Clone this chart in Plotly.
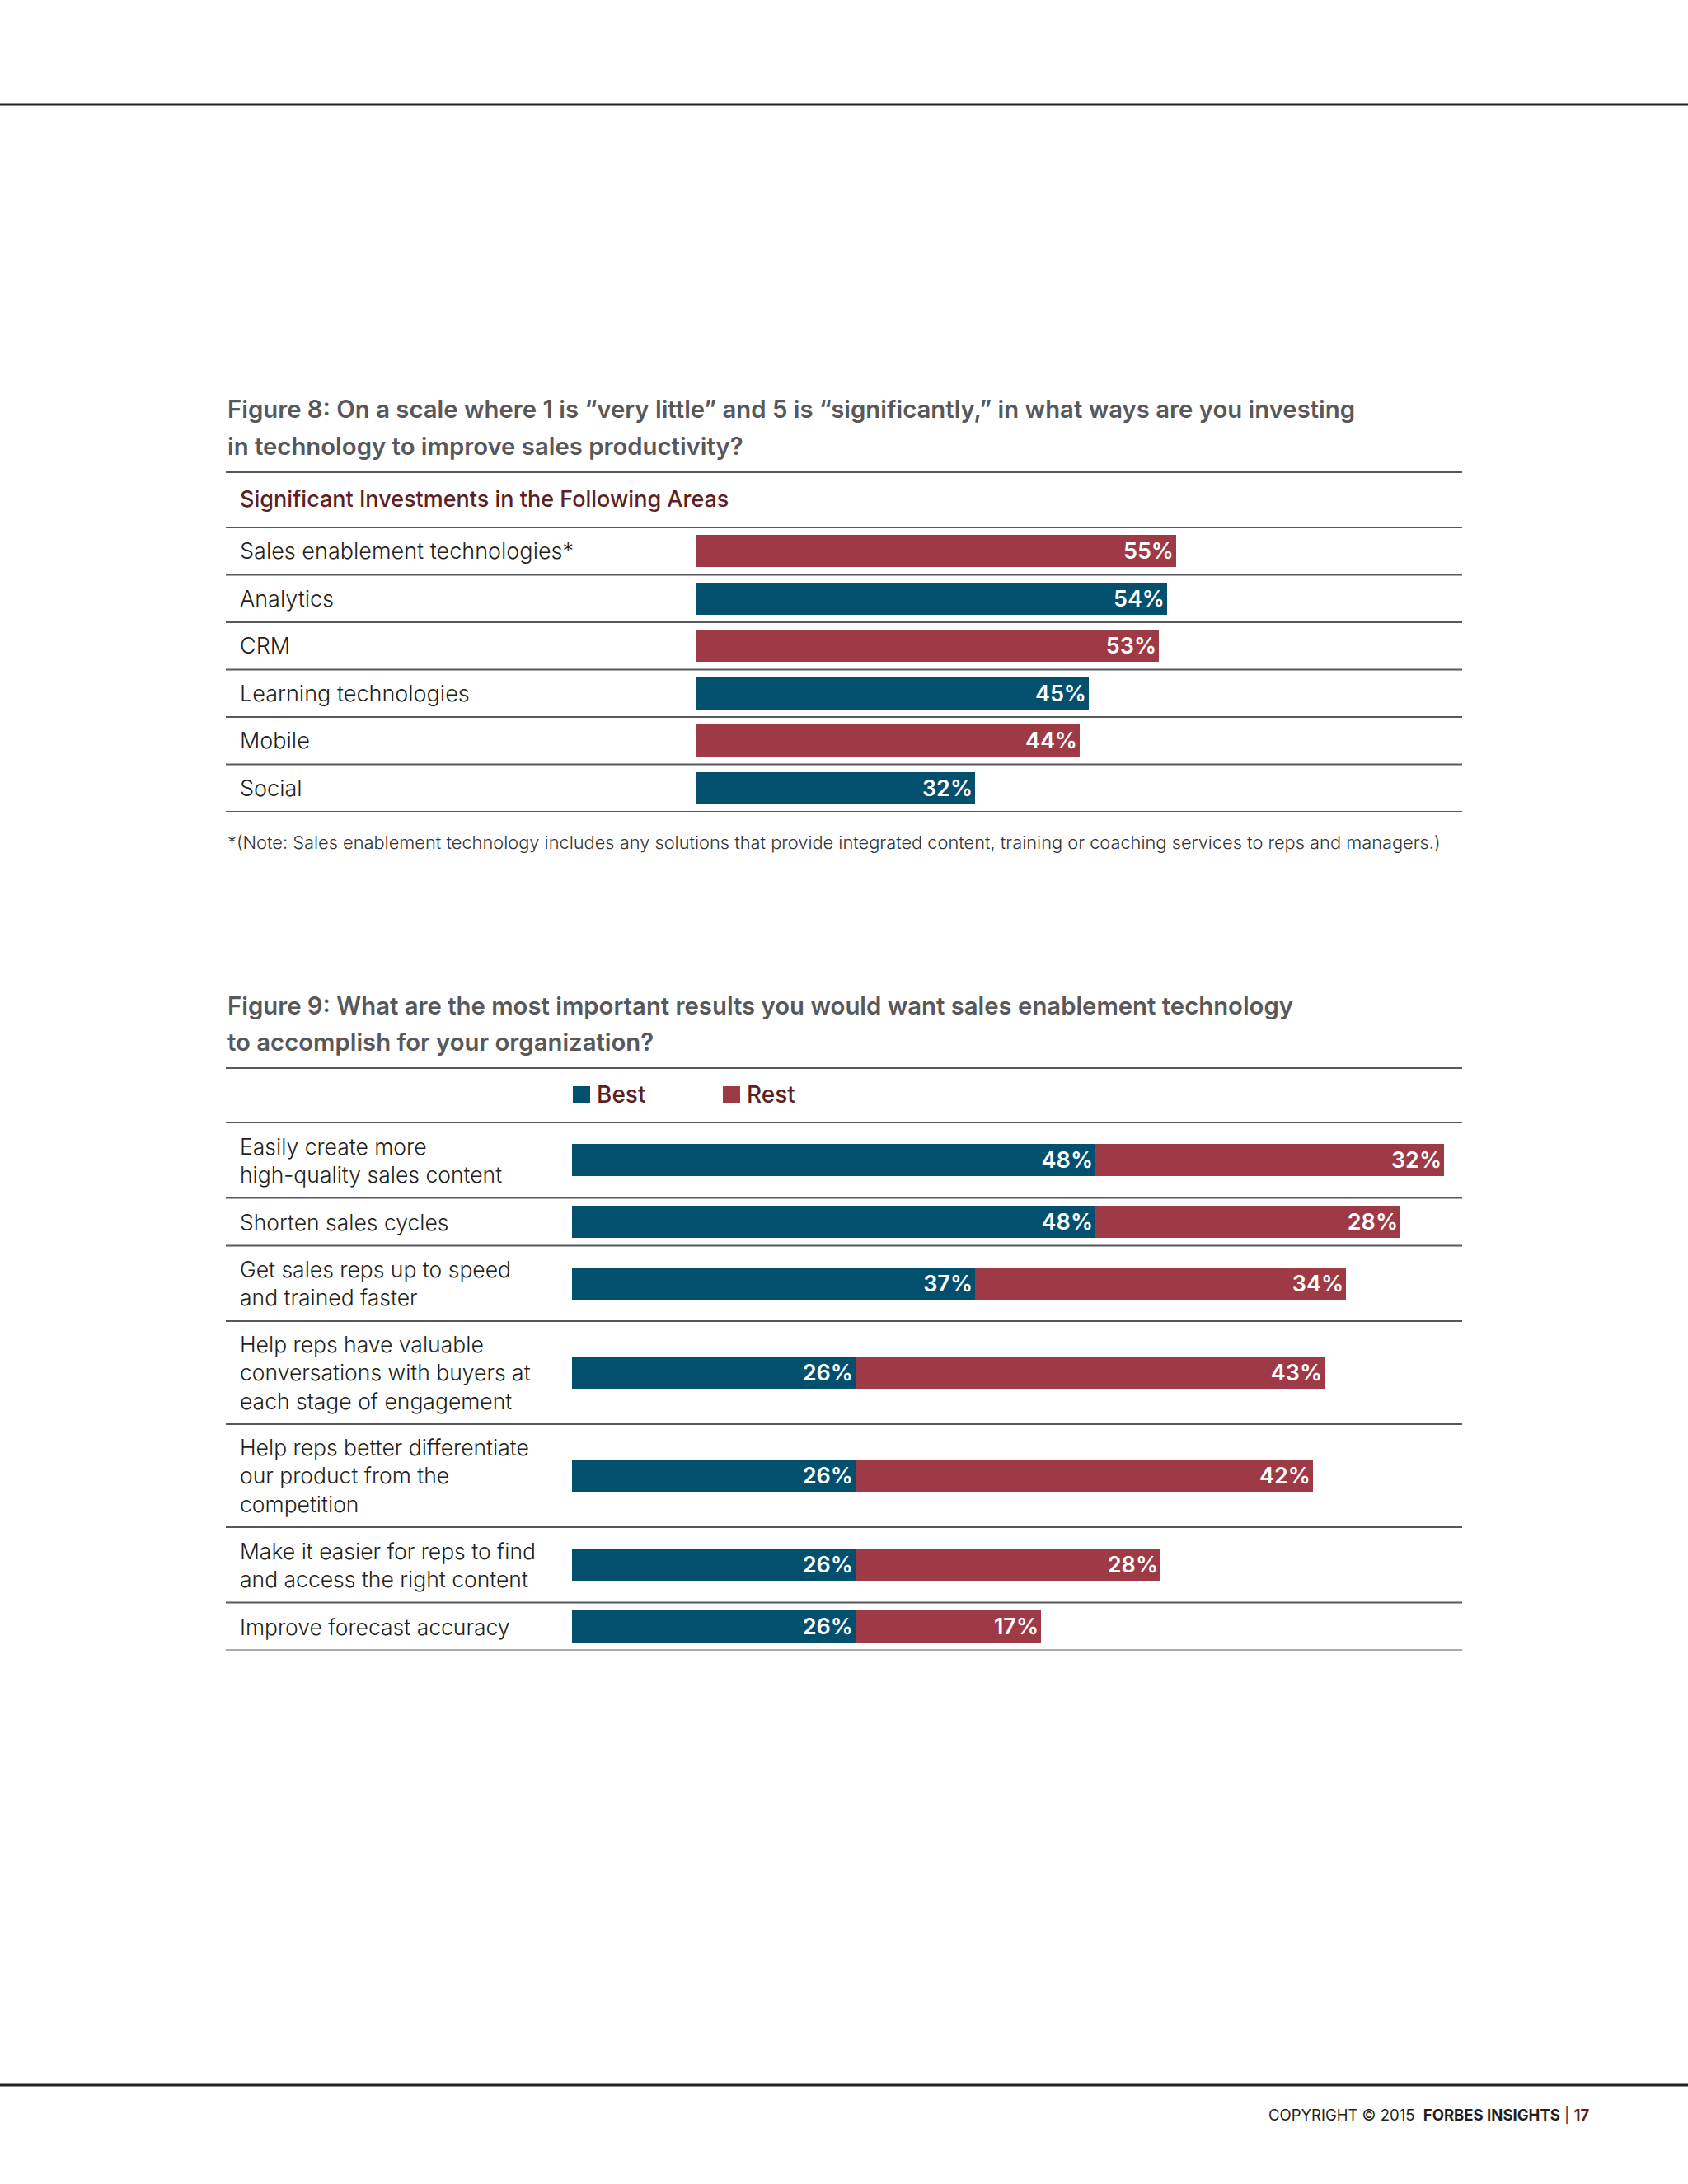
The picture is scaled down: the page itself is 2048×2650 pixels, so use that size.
import plotly.graph_objects as go

# ---------------- data ----------------
fig8_title_1 = "Figure 8: On a scale where 1 is “very little” and 5 is “significantly,” in what ways are you investing"
fig8_title_2 = "in technology to improve sales productivity?"
fig8_header = "Significant Investments in the Following Areas"
fig8_categories = ["Sales enablement technologies*", "Analytics", "CRM",
                   "Learning technologies", "Mobile", "Social"]
fig8_values = [55, 54, 53, 45, 44, 32]
fig8_note = ("*(Note: Sales enablement technology includes any solutions that provide integrated content, "
             "training or coaching services to reps and managers.)")

fig9_title_1 = "Figure 9: What are the most important results you would want sales enablement technology"
fig9_title_2 = "to accomplish for your organization?"
fig9_categories = ["Easily create more<br>high-quality sales content",
                   "Shorten sales cycles",
                   "Get sales reps up to speed<br>and trained faster",
                   "Help reps have valuable<br>conversations with buyers at<br>each stage of engagement",
                   "Help reps better differentiate<br>our product from the<br>competition",
                   "Make it easier for reps to find<br>and access the right content",
                   "Improve forecast accuracy"]
fig9_best = [48, 48, 37, 26, 26, 26, 26]
fig9_rest = [32, 28, 34, 43, 42, 28, 17]
series_names = ["Best", "Rest"]

footer_text = "COPYRIGHT © 2015  <b>FORBES INSIGHTS</b> <span style='color:#5c1f24'>| <b>17</b></span>"

# ---------------- style ----------------
W, H = 2048, 2650
BLUE = "#03506e"
RED = "#9e3a45"
MAROON = "#5c1f24"
TITLE_GRAY = "#58585a"
TEXT = "#231f20"
RULE = "#58585a"
FONT = "Inter"

def px_x(x):
    return x / W

def px_y(y):
    return 1 - y / H

fig = go.Figure()

# ---------- Figure 8 bars ----------
bar8_colors = [RED if i % 2 == 0 else BLUE for i in range(len(fig8_values))]
fig.add_trace(go.Bar(
    x=fig8_values, y=list(range(len(fig8_values))), orientation="h",
    marker=dict(color=bar8_colors, line=dict(width=0)),
    width=0.68,
    text=[f"{v}%" for v in fig8_values], textposition="inside",
    insidetextanchor="end", constraintext="none",
    textfont=dict(family=FONT, size=27, color="white", weight=600),
    xaxis="x", yaxis="y", showlegend=False, hoverinfo="skip",
))

# ---------- Figure 9 layout rows (height grows with label lines) ----------
line_counts = [c.count("<br>") + 1 for c in fig9_categories]
row_h = [24.5 + 33.5 * n for n in line_counts]
bounds = [0]
for h in row_h:
    bounds.append(bounds[-1] + h)
centers = [(bounds[i] + bounds[i + 1]) / 2 for i in range(len(row_h))]
total9 = bounds[-1]

for name, vals, col in [(series_names[0], fig9_best, BLUE), (series_names[1], fig9_rest, RED)]:
    fig.add_trace(go.Bar(
        x=vals, y=centers, orientation="h", name=name,
        marker=dict(color=col, line=dict(width=0)),
        width=39,
        text=[f"{v}%" for v in vals], textposition="inside",
        insidetextanchor="end", constraintext="none",
        textfont=dict(family=FONT, size=27, color="white", weight=600),
        xaxis="x2", yaxis="y2", showlegend=False, hoverinfo="skip",
    ))

# axes: figure 8 -> 0 at x=844px, 10.6 px per %; figure 9 -> 0 at 694px, 13.225 px per %
x8_left, x8_right = 844, 1774
x9_left, x9_right = 694, 1774
fig.update_layout(
    width=W, height=H, margin=dict(l=0, r=0, t=0, b=0),
    paper_bgcolor="white", plot_bgcolor="rgba(0,0,0,0)",
    barmode="stack", bargap=0,
    xaxis=dict(domain=[px_x(x8_left), px_x(x8_right)], range=[0, (x8_right - x8_left) / 10.6],
               visible=False, fixedrange=True),
    yaxis=dict(domain=[px_y(985), px_y(640)], range=[len(fig8_values) - 0.5, -0.5],
               visible=False, fixedrange=True),
    xaxis2=dict(domain=[px_x(x9_left), px_x(x9_right)], range=[0, (x9_right - x9_left) / 13.225],
                visible=False, fixedrange=True, anchor="y2"),
    yaxis2=dict(domain=[px_y(1362 + total9), px_y(1362)], range=[total9, 0],
                visible=False, fixedrange=True, anchor="x2"),
    showlegend=False,
)

shapes = []
annotations = []

def hrule(y, x0=274, x1=1774, yref="paper", width=2, color=RULE):
    shapes.append(dict(type="line", xref="paper", yref=yref,
                       x0=px_x(x0), x1=px_x(x1),
                       y0=px_y(y) if yref == "paper" else y,
                       y1=px_y(y) if yref == "paper" else y,
                       line=dict(color=color, width=width)))

def text(x, y, s, size, color, weight=400, xanchor="left", yanchor="middle", yref="paper", align="left"):
    annotations.append(dict(x=px_x(x), y=px_y(y) if yref == "paper" else y, xref="paper", yref=yref,
                            text=s, showarrow=False, xanchor=xanchor, yanchor=yanchor, align=align,
                            font=dict(family=FONT, size=size, color=color, weight=weight)))

# page rules
hrule(127, 0, W, width=3, color="#231f20")
hrule(2530, 0, W, width=3, color="#231f20")

# Figure 8 text and rules
text(274, 497, fig8_title_1, 29.3, TITLE_GRAY, 600)
text(274, 541, fig8_title_2, 29.3, TITLE_GRAY, 600)
hrule(573)
text(289, 605, fig8_header, 27, MAROON, 500)
for i in range(len(fig8_values) + 1):
    hrule(i - 0.5, yref="y")
for i, c in enumerate(fig8_categories):
    text(289, i, c, 27, TEXT, 300, yref="y")
text(274, 1022, fig8_note, 21.8, "#333333", 300)

# Figure 9 text and rules
text(274, 1220, fig9_title_1, 29.3, TITLE_GRAY, 600)
text(274, 1264, fig9_title_2, 29.3, TITLE_GRAY, 600)
hrule(1296)
for b in bounds:
    hrule(b, yref="y2")
for c, yc in zip(fig9_categories, centers):
    text(289, yc, c, 26.5, TEXT, 300, yref="y2")

# legend (manual)
for (lx, name, col) in [(695, series_names[0], BLUE), (877, series_names[1], RED)]:
    shapes.append(dict(type="rect", xref="paper", yref="paper",
                       x0=px_x(lx), x1=px_x(lx + 21), y0=px_y(1338), y1=px_y(1318),
                       fillcolor=col, line=dict(width=0)))
    text(lx + 27, 1328, name, 28, MAROON, 500)

# footer
text(1537, 2566, footer_text, 18.5, "#231f20", 400)

fig.update_layout(shapes=shapes, annotations=annotations)
fig.write_html("out.html", config={"displayModeBar": False},
               post_script="document.body.style.margin='0';document.body.style.padding='0';")
